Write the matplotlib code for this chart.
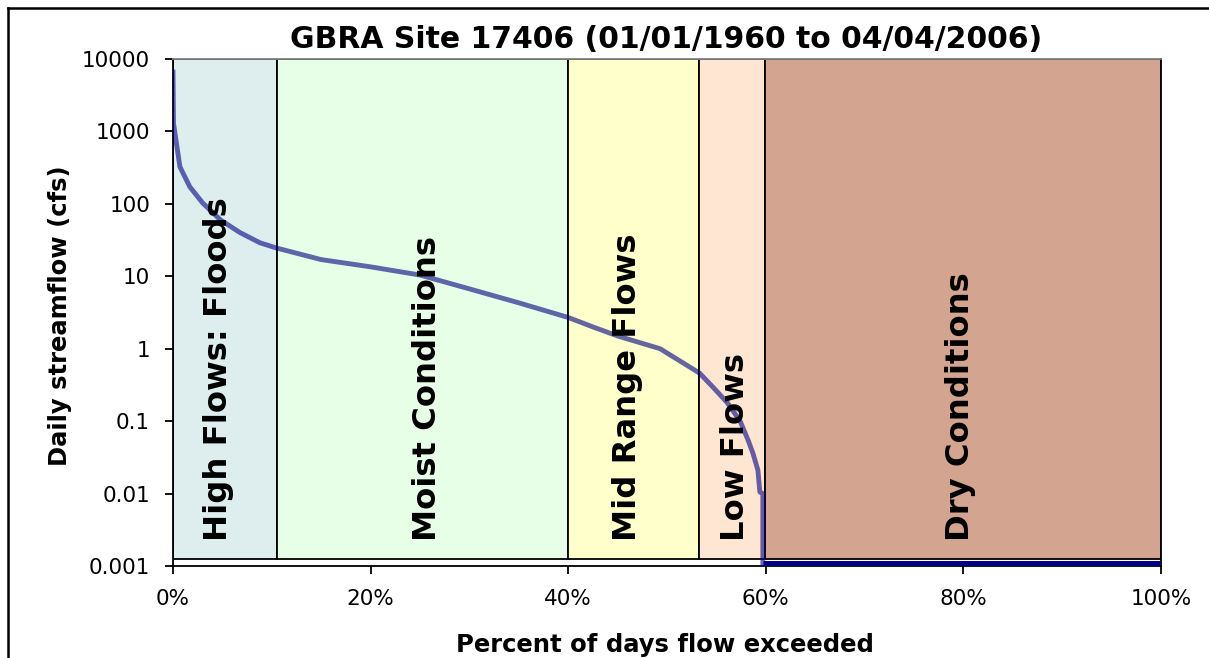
import matplotlib
matplotlib.use("Agg")
import matplotlib.pyplot as plt
import matplotlib.transforms as mtransforms
from matplotlib.lines import Line2D
from matplotlib.ticker import FixedLocator, FixedFormatter, NullLocator

# ---------------- data ----------------
title = "GBRA Site 17406 (01/01/1960 to 04/04/2006)"
x_label = "Percent of days flow exceeded"
y_label = "Daily streamflow (cfs)"

# flow duration curve (percent of days exceeded, cfs)
pct = [0, 0.05, 0.3, 0.7, 1.7, 3.0, 4.8, 6.8, 8.8, 10.5, 15, 20, 25, 30, 35,
       40, 42.5, 45, 49.3, 53.3, 54.7, 56.1, 57.4, 58.2, 58.7, 59.2, 59.4,
       59.7, 59.7]
flow = [6600, 1300, 760, 325, 172, 103, 60, 40, 29, 24.5, 17, 13.5, 10.4,
        6.7, 4.3, 2.7, 2.0, 1.5, 1.0, 0.46, 0.29, 0.18, 0.10, 0.055, 0.036,
        0.021, 0.0105, 0.01, 0.0011]

# zero-flow days plotted at the floor
pct_zero = [59.7, 100]
flow_zero = [0.0011, 0.0011]

# flow regime zones
zone_names = ["High Flows: Floods", "Moist Conditions", "Mid Range Flows",
              "Low Flows", "Dry Conditions"]
zone_edges = [0, 10.5, 40, 53.2, 59.9, 100]
zone_colors = ["#DEEEEE", "#E6FFE6", "#FFFFCC", "#FFE6D2", "#D3A590"]
zone_bottom, zone_top = 0.00125, 10000
label_x = [4.6, 25.8, 46.0, 56.9, 79.7]

y_ticks = [0.001, 0.01, 0.1, 1, 10, 100, 1000, 10000]
y_tick_labels = ["0.001", "0.01", "0.1", "1", "10", "100", "1000", "10000"]
x_ticks = [0, 20, 40, 60, 80, 100]
x_tick_labels = ["0%", "20%", "40%", "60%", "80%", "100%"]

# ---------------- figure ----------------
W, H = 1209, 658
fig = plt.figure(figsize=(W / 100, H / 100), dpi=100, frameon=False)

ax = fig.add_axes([173 / W, 1 - 566 / H, (1161 - 173) / W, (566 - 59) / H])
ax.set_yscale("log")
ax.set_xlim(0, 100)
ax.set_ylim(0.001, 10000)

# zones
for i, name in enumerate(zone_names):
    left, right = zone_edges[i], zone_edges[i + 1]
    ax.bar(left, zone_top - zone_bottom, bottom=zone_bottom, width=right - left,
           align="edge", color=zone_colors[i], edgecolor="black",
           linewidth=1.3, zorder=1)

# curve
ax.plot(pct, flow, color="#000080", alpha=0.6, linewidth=3.5,
        solid_joinstyle="round", zorder=3)
ax.plot(pct_zero, flow_zero, color="#000080", linewidth=3.6, zorder=3,
        solid_capstyle="butt")

# zone labels
trans = mtransforms.blended_transform_factory(ax.transData, ax.transAxes)
for name, lx in zip(zone_names, label_x):
    ax.text(lx, 0.05, name, transform=trans, rotation=90, ha="center",
            va="bottom", fontsize=23.2, fontweight="bold", color="black",
            zorder=4)

# ticks
ax.yaxis.set_major_locator(FixedLocator(y_ticks))
ax.yaxis.set_major_formatter(FixedFormatter(y_tick_labels))
ax.yaxis.set_minor_locator(NullLocator())
ax.xaxis.set_major_locator(FixedLocator(x_ticks))
ax.xaxis.set_major_formatter(FixedFormatter(x_tick_labels))
ax.tick_params(axis="y", length=6, width=1.3, pad=10.5, labelsize=15.5,
               direction="out")
ax.tick_params(axis="x", length=6, width=1.3, pad=10.5, labelsize=15.5,
               direction="out")
for side in ["left", "bottom", "top", "right"]:
    ax.spines[side].set_linewidth(1.3)
    ax.spines[side].set_color("black")
ax.spines["top"].set_color("#808080")

# titles / labels
fig.text(666 / W, 1 - 48 / H, title, ha="center", va="baseline",
         fontsize=21.5, fontweight="bold")
fig.text(665 / W, 1 - 652 / H, x_label, ha="center", va="baseline",
         fontsize=17.5, fontweight="bold")
fig.text(60 / W, 1 - 316 / H, y_label, ha="center", va="center",
         rotation=90, fontsize=17.5, fontweight="bold")

# outer chart border (only top and left edges visible)
bx, by = 8 / W, 1 - 8 / H
fig.add_artist(Line2D([bx, 1.02], [by, by], transform=fig.transFigure,
                      color="black", linewidth=1.8))
fig.add_artist(Line2D([bx, bx], [-0.02, by], transform=fig.transFigure,
                      color="black", linewidth=1.8))

fig.savefig("out.png", dpi=100, facecolor="white")
